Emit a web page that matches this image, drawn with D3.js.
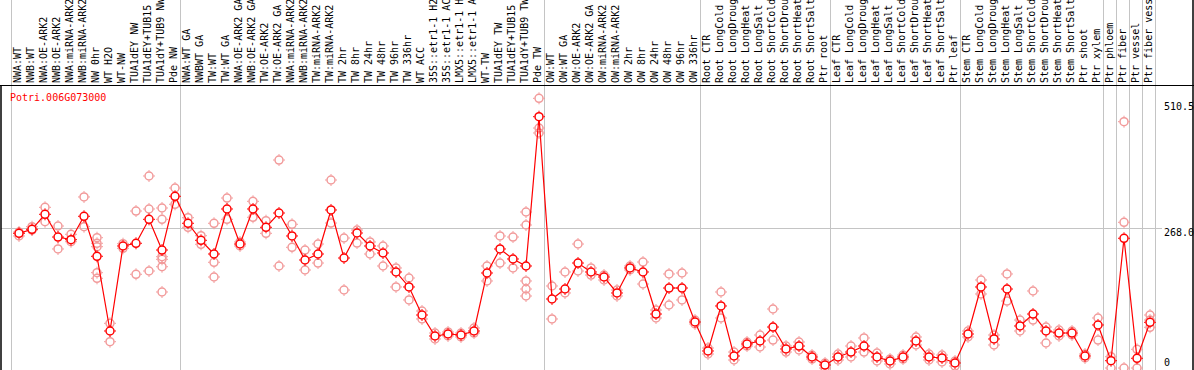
<!DOCTYPE html>
<html>
<head>
<meta charset="utf-8">
<script src="https://cdn.jsdelivr.net/npm/d3@7"></script>
<style>
  body { margin: 0; background: #fff; }
  svg { display: block; font-family: "DejaVu Sans Mono", "Liberation Mono", monospace; }
</style>
</head>
<body>
<svg width="1194" height="370"></svg>
<script>
const geneName = 'Potri.006G073000';

const samples = [
  'NWA:WT', 'NWB:WT', 'NWA:OE-ARK2', 'NWB:OE-ARK2', 'NWA:miRNA-ARK2', 'NWB:miRNA-ARK2',
  'NW 0hr', 'WT H2O', 'WT-NW', 'TUA1dEY NW', 'TUA1dEY+TUB15 NW', 'TUA1dY+TUB9 NW', 'Pde NW',
  'NWA:WT GA', 'NWBWT GA', 'TW:WT', 'TW:WT GA', 'NWA:OE-ARK2 GA', 'NWB:OE-ARK2 GA',
  'TW:OE-ARK2', 'TW:OE-ARK2 GA', 'NWA:miRNA-ARK2 GA', 'NWB:miRNA-ARK2 GA', 'TW:miRNA-ARK2',
  'TW:miRNA-ARK2 GA', 'TW 2hr', 'TW 8hr', 'TW 24hr', 'TW 48hr', 'TW 96hr', 'TW 336hr', 'WT ACC',
  '35S::etr1-1 H2O', '35S::etr1-1 ACC', 'LMX5::etr1-1 H2O', 'LMX5::etr1-1 ACC', 'WT-TW',
  'TUA1dEY TW', 'TUA1dEY+TUB15 TW', 'TUA1dY+TUB9 TW', 'Pde TW',
  'OW:WT', 'OW:WT GA', 'OW:OE-ARK2', 'OW:OE-ARK2 GA', 'OW:miRNA-ARK2', 'OW:miRNA-ARK2 GA',
  'OW 2hr', 'OW 8hr', 'OW 24hr', 'OW 48hr', 'OW 96hr', 'OW 336hr',
  'Root CTR', 'Root LongCold', 'Root LongDrought', 'Root LongHeat', 'Root LongSalt',
  'Root ShortCold', 'Root ShortDrought', 'Root ShortHeat', 'Root ShortSalt', 'Ptr root',
  'Leaf CTR', 'Leaf LongCold', 'Leaf LongDrought', 'Leaf LongHeat', 'Leaf LongSalt',
  'Leaf ShortCold', 'Leaf ShortDrought', 'Leaf ShortHeat', 'Leaf ShortSalt', 'Ptr leaf',
  'Stem CTR', 'Stem LongCold', 'Stem LongDrought', 'Stem LongHeat', 'Stem LongSalt',
  'Stem ShortCold', 'Stem ShortDrought', 'Stem ShortHeat', 'Stem ShortSalt', 'Ptr shoot',
  'Ptr xylem', 'Ptr phloem', 'Ptr fiber', 'Ptr vessel', 'Ptr fiber vessel'
];

const means = [
  258.0, 265.7, 294.4, 250.9, 245.8, 290.6, 214.0, 70.9, 233.7, 238.9, 284.8, 226.0, 328.9,
  277.2, 244.6, 218.4, 304.6, 237.5, 304.6, 269.5, 296.9, 252.9, 206.9, 218.4, 302.7, 210.7,
  258.6, 233.7, 220.3, 183.9, 155.2, 101.5, 61.3, 65.1, 63.2, 70.9, 182.0, 228.0, 208.8,
  195.4, 481.4,
  132.2, 151.3, 201.1, 183.9, 174.3, 143.7, 191.6, 183.9, 103.4, 153.2, 153.2, 88.1,
  32.6, 118.8, 23.0, 46.0, 51.7, 78.5, 36.4, 42.1, 21.1, 5.7,
  21.1, 30.6, 42.1, 21.1, 13.4, 21.1, 51.7, 21.1, 19.2, 9.6,
  65.1, 155.2, 55.6, 151.3, 80.5, 103.4, 70.9, 67.0, 67.0, 23.0, 82.4,
  14.0, 248.5, 18.6, 87.5
];

const replicates = [
  [260.5, 252.9], [270.7, 264.3], [307.8, 280.2], [272.0, 228.0], [256.1, 241.9],
  [327.6, 270.7], [249.6, 238.9, 232.4, 182.6, 171.8], [85.6, 50.4], [229.3, 238.1],
  [300.7, 179.5], [367.8, 304.6, 185.8], [306.5, 284.8, 213.2, 208.2, 194.0, 145.6],
  [344.8, 313.6],
  [287.9, 269.5], [253.4, 237.0], [277.2, 202.5, 174.3], [325.6, 284.8], [241.4, 233.7],
  [319.3, 288.7], [282.2, 258.0], [398.4, 195.4], [275.3, 231.2], [226.0, 187.7],
  [237.5, 201.1], [360.1, 277.7], [249.0, 149.4], [264.3, 239.4], [241.4, 218.4],
  [233.7, 195.4], [191.6, 155.2], [172.4, 130.3], [109.2, 93.9], [67.0, 55.6], [69.0, 61.3],
  [67.0, 59.4], [76.6, 67.0], [195.4, 166.7], [252.9, 201.1], [250.9, 191.6],
  [298.8, 273.9, 166.7, 151.3, 137.9], [516.6, 459.7, 450.2],
  [157.1, 93.9], [183.9, 143.7], [237.5, 185.8], [191.6, 178.1], [178.1, 168.6],
  [149.4, 137.9], [195.4, 187.7], [203.0, 160.9], [111.1, 95.8], [180.1, 120.7],
  [182.0, 130.3], [91.9, 84.3],
  [38.3, 26.8], [145.6, 95.8], [30.6, 15.3], [49.8, 42.1], [63.2, 40.2], [113.0, 53.6],
  [42.1, 30.6], [49.8, 34.5], [24.9, 17.2], [9.6, 0],
  [26.8, 15.3], [42.1, 21.1], [57.5, 30.6], [28.7, 13.4], [17.2, 7.7], [24.9, 17.2],
  [59.4, 44.1], [26.8, 15.3], [24.9, 11.5], [13.4, 3.8],
  [70.9, 59.4], [168.6, 141.8], [63.2, 44.1], [180.1, 128.3], [91.9, 70.9], [147.5, 91.9],
  [78.5, 47.9], [72.8, 61.3], [70.9, 63.2], [26.8, 19.2], [95.8, 53.6],
  [21.6, 0], [471.8, 279.1, 0], [35.8, 0], [101.5, 78.0, 91.9]
];

// last sample index of each group (gray separators); -1 = before first
const groupEnds = [-1, 12, 40, 52, 62, 72, 83, 84, 85, 86, 87];

const yTicks = [0, 268.0, 510.5];

const width = 1194;
const height = 370;
const plotTop = 85;

const svg = d3.select('svg');

const x = d3.scaleLinear().domain([0, samples.length - 1]).range([19, 19 + 13 * (samples.length - 1)]);
const y = d3.scaleLinear().domain([0, 510.5]).range([368, 101.5]);

// group separators
svg.append('g')
  .selectAll('line')
  .data(groupEnds)
  .enter()
  .append('line')
  .attr('x1', d => Math.round(x(d) + 5) + 0.5)
  .attr('x2', d => Math.round(x(d) + 5) + 0.5)
  .attr('y1', 0)
  .attr('y2', height)
  .attr('stroke', '#c4c4c4')
  .attr('stroke-width', 1);

// middle reference line
svg.append('line')
  .attr('x1', 1)
  .attr('x2', 1162)
  .attr('y1', Math.round(y(yTicks[1])) + 0.5)
  .attr('y2', Math.round(y(yTicks[1])) + 0.5)
  .attr('stroke', '#c4c4c4')
  .attr('stroke-width', 1);

// frame
svg.append('line')
  .attr('x1', 0).attr('x2', width)
  .attr('y1', plotTop + 0.5).attr('y2', plotTop + 0.5)
  .attr('stroke', '#000').attr('stroke-width', 1.2);
svg.append('line')
  .attr('x1', 1).attr('x2', 1)
  .attr('y1', plotTop).attr('y2', height)
  .attr('stroke', '#000').attr('stroke-width', 1.5);
svg.append('line')
  .attr('x1', 1193).attr('x2', 1193)
  .attr('y1', 0).attr('y2', height)
  .attr('stroke', '#000').attr('stroke-width', 1.5);

// sample labels, rotated
svg.append('g')
  .selectAll('text')
  .data(samples)
  .enter()
  .append('text')
  .attr('transform', (d, i) => `translate(${x(i) + 2},83) rotate(-90)`)
  .attr('font-size', 10)
  .attr('fill', '#000')
  .text(d => d);

// y tick labels
svg.append('g')
  .selectAll('text')
  .data(yTicks)
  .enter()
  .append('text')
  .attr('x', 1164)
  .attr('y', d => d === 0 ? y(d) - 2 : y(d) + 8)
  .attr('font-size', 10)
  .attr('fill', '#000')
  .text(d => d === 0 ? '0' : d.toFixed(1));

// gene name
svg.append('text')
  .attr('x', 10)
  .attr('y', 101)
  .attr('font-size', 10)
  .attr('fill', '#ff0000')
  .text(geneName);

const marker = (g, color) => {
  g.append('circle')
    .attr('r', 4)
    .attr('stroke', color)
    .attr('stroke-width', 1.5);
  g.append('path')
    .attr('d', 'M0,-6V-4.5M0,4.5V6M-6,0H-4.5M4.5,0H6')
    .attr('stroke', color)
    .attr('stroke-width', 1);
};

// replicate points
const reps = [];
replicates.forEach((arr, i) => arr.forEach(v => reps.push([i, v])));

svg.append('g')
  .selectAll('g')
  .data(reps)
  .enter()
  .append('g')
  .attr('transform', d => `translate(${x(d[0])},${y(d[1])})`)
  .attr('fill', 'none')
  .each(function () { marker(d3.select(this), '#f29a9a'); });

// mean line
svg.append('path')
  .datum(means)
  .attr('fill', 'none')
  .attr('stroke', '#ff0000')
  .attr('stroke-width', 1.2)
  .attr('d', d3.line().x((d, i) => x(i)).y(d => y(d)));

// mean points
svg.append('g')
  .selectAll('g')
  .data(means)
  .enter()
  .append('g')
  .attr('transform', (d, i) => `translate(${x(i)},${y(d)})`)
  .attr('fill', '#fff')
  .each(function () { marker(d3.select(this), '#ff0000'); });
</script>
</body>
</html>
